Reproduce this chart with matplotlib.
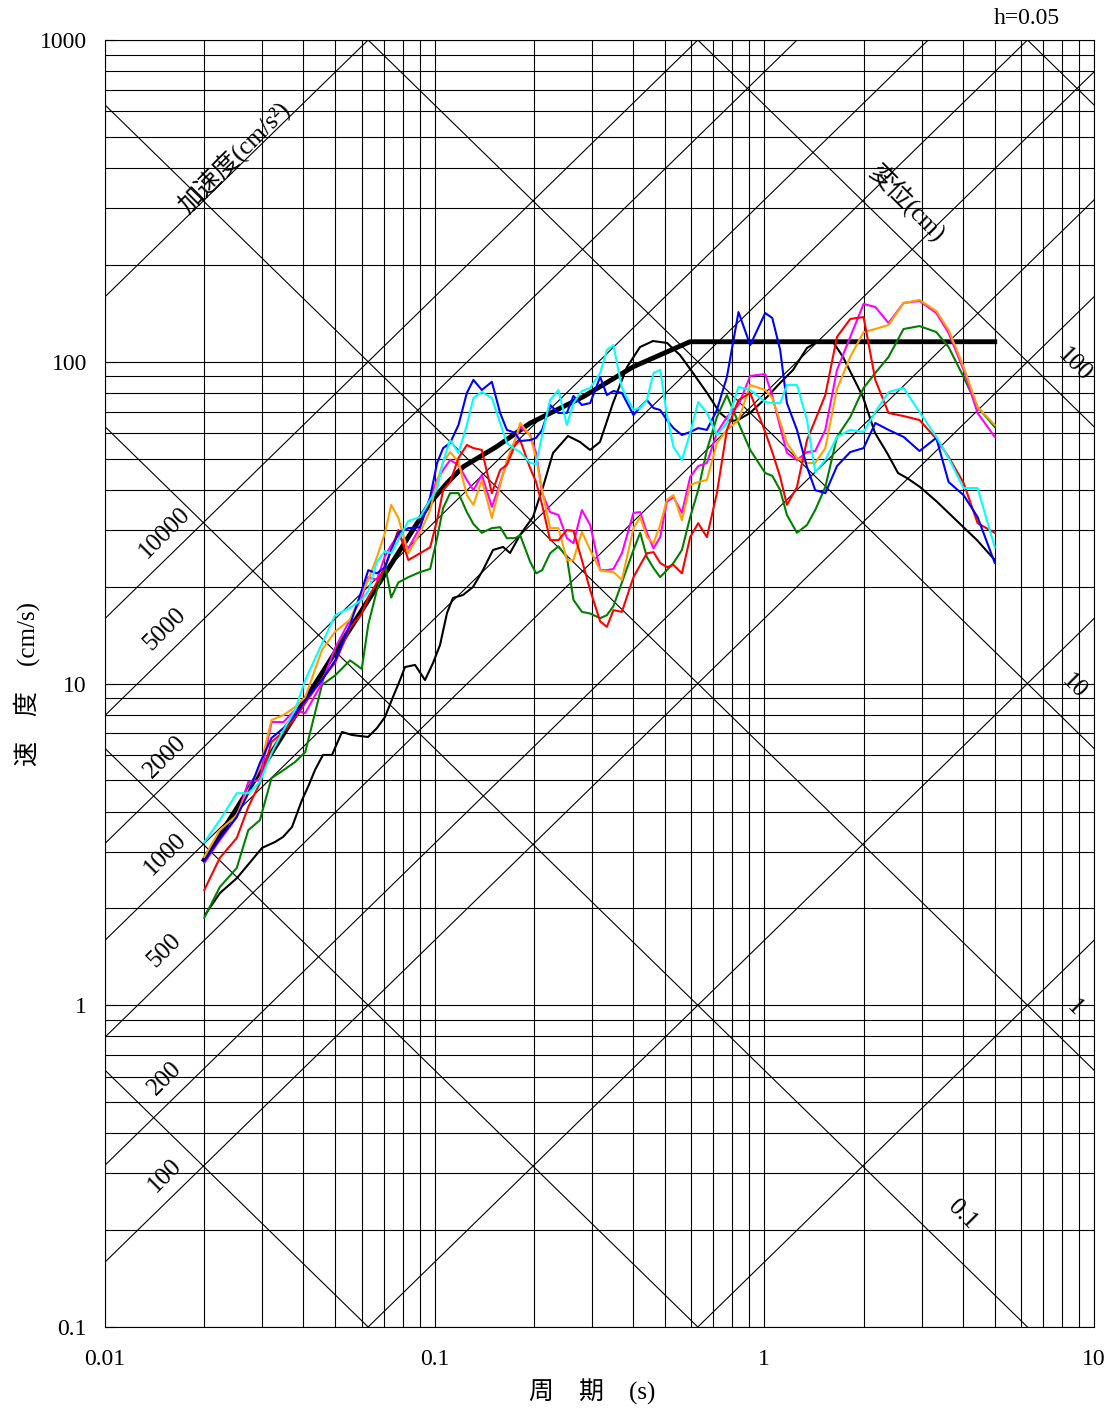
import numpy as np
import matplotlib
matplotlib.use('Agg')
import matplotlib.pyplot as plt
from matplotlib.ticker import LogLocator, NullFormatter, FixedLocator, FixedFormatter

# periods (s) of the computed spectra
periods = [0.020, 0.0223, 0.0251, 0.0272, 0.0295, 0.0320, 0.0348, 0.0377, 0.0405, 0.0455,
           0.0499, 0.0554, 0.0601, 0.0629, 0.0668, 0.0707, 0.0738, 0.0776, 0.0832, 0.0903,
           0.0969, 0.1017, 0.1061, 0.1114, 0.1181, 0.1252, 0.1311, 0.1390, 0.1491, 0.1580,
           0.1656, 0.1754, 0.1817, 0.1948, 0.2031, 0.2118, 0.2240, 0.2374, 0.2518, 0.2636,
           0.2796, 0.2963, 0.3177, 0.3329, 0.3486, 0.3698, 0.4009, 0.4202, 0.4403, 0.4611,
           0.4832, 0.5063, 0.5302, 0.5623, 0.5958, 0.6301, 0.6695, 0.7180, 0.7700, 0.8349,
           0.9061, 1.006, 1.057, 1.117, 1.171, 1.256, 1.347, 1.427, 1.531, 1.661,
           1.822, 2.000, 2.171, 2.381, 2.644, 2.957, 3.323, 3.622, 4.022, 4.435, 5.0]

sv_blue = [2.80, 3.30, 3.85, 4.56, 5.66, 6.77, 7.27, 7.98, 8.88, 10.25,
           11.8, 15.25, 19.5, 22.5, 22.0, 23.0, 26.0, 29.4, 30.4, 30.6,
           37.95, 48.45, 53.9, 55.9, 63.6, 80.0, 87.8, 81.7, 86.6, 69.3,
           61.4, 60.1, 56.7, 57.1, 58.0, 61.4, 73.4, 69.3, 69.3, 78.3,
           73.4, 74.4, 89.7, 78.8, 81.1, 80.0, 68.3, 72.3, 76.05, 71.8,
           70.8, 65.9, 62.2, 59.2, 60.5, 62.2, 61.4, 70.8, 89.7, 142.7,
           112.7, 141.7, 136.8, 108.8, 74.4, 61.4, 47.1, 39.9, 39.05, 47.4,
           52.4, 53.9, 64.5, 61.4, 58.4, 52.8, 58.0, 42.3, 38.5, 32.9, 23.7]

sv_red = [2.28, 2.87, 3.31, 4.13, 4.90, 6.58, 7.07, 7.81, 8.69, 10.3,
          11.6, 14.9, 16.5, 18.5, 20.6, 23.0, 26.0, 30.0, 24.2, 25.4,
          26.5, 32.2, 39.9, 42.3, 50.2, 55.1, 53.9, 53.2, 39.05, 46.1,
          47.8, 55.1, 57.1, 46.7, 42.3, 35.9, 27.9, 27.9, 30.0, 29.8,
          24.2, 19.5, 15.6, 15.0, 16.9, 16.7, 21.4, 23.35, 25.4, 25.6,
          23.7, 23.0, 23.35, 22.0, 28.5, 31.5, 28.5, 39.05, 61.4, 76.05,
          80.0, 60.5, 52.4, 43.85, 35.9, 40.8, 57.1, 65.9, 78.8, 119.4,
          135.8, 137.7, 87.8, 69.3, 67.8, 65.9, 57.6, 50.6, 42.0, 31.5, 29.4]

sv_magenta = [2.77, 3.26, 3.84, 4.94, 5.01, 7.59, 7.59, 8.27, 8.09, 10.03,
              12.9, 15.8, 18.5, 21.4, 21.0, 24.9, 26.9, 28.9, 26.3, 30.6,
              37.95, 42.9, 46.1, 49.5, 47.8, 42.9, 39.9, 44.5, 35.4, 42.0,
              48.8, 57.1, 62.7, 59.2, 52.1, 39.05, 34.1, 33.4, 28.3, 27.3,
              34.6, 31.1, 22.5, 22.5, 22.7, 25.4, 33.9, 34.1, 29.4, 26.3,
              28.5, 36.7, 37.95, 33.9, 43.85, 47.4, 48.45, 60.1, 67.3, 73.4,
              90.3, 91.6, 78.3, 62.7, 52.1, 49.5, 52.4, 52.8, 61.4, 94.3,
              119.4, 151.2, 148.0, 131.9, 152.3, 154.5, 141.7, 122.8, 94.3, 69.3, 58.4]

sv_orange = [2.89, 3.50, 3.90, 4.67, 5.46, 7.70, 7.98, 8.45, 9.07, 12.7,
             14.5, 15.8, 19.1, 21.0, 24.7, 29.4, 35.9, 32.7, 25.4, 29.4,
             34.6, 42.3, 48.8, 52.4, 48.8, 38.5, 35.9, 42.9, 32.7, 41.4,
             49.5, 57.1, 64.5, 58.8, 50.2, 39.9, 30.4, 30.4, 24.2, 24.2,
             29.6, 26.0, 22.5, 22.3, 22.2, 21.0, 30.4, 32.9, 28.5, 27.3,
             31.1, 37.2, 38.5, 32.2, 41.4, 42.3, 42.9, 55.9, 61.4, 65.9,
             84.7, 81.7, 77.2, 65.0, 55.9, 50.2, 48.45, 48.45, 53.9, 82.3,
             103.5, 123.7, 126.4, 130.1, 152.3, 155.6, 143.8, 125.5, 96.4, 72.3, 63.6]

sv_cyan = [3.21, 3.76, 4.56, 4.56, 4.94, 6.08, 7.17, 8.27, 10.25, 13.3,
           16.3, 17.2, 18.2, 19.4, 23.9, 25.8, 25.4, 27.9, 32.0, 32.9,
           37.2, 40.2, 49.1, 57.1, 52.1, 63.6, 77.2, 80.5, 77.2, 64.5,
           55.9, 53.5, 52.4, 48.45, 48.1, 59.2, 76.05, 81.7, 63.6, 74.4,
           81.1, 82.9, 92.3, 108.8, 112.7, 82.9, 70.8, 71.8, 76.05, 92.3,
           94.3, 68.3, 54.3, 49.5, 60.1, 75.0, 69.3, 59.2, 64.5, 83.5,
           81.7, 75.0, 74.4, 74.4, 84.7, 84.7, 65.9, 45.4, 49.5, 58.4,
           61.4, 60.5, 69.8, 80.5, 82.9, 69.8, 58.4, 50.2, 40.5, 40.5, 26.5]

sv_green = [1.87, 2.33, 2.67, 3.50, 3.76, 5.08, 5.38, 5.70, 6.12, 9.89,
            10.6, 11.8, 11.1, 15.25, 19.5, 23.35, 18.5, 20.6, 21.4, 22.2,
            22.7, 28.3, 35.1, 39.05, 39.05, 34.1, 31.3, 29.4, 30.4, 30.6,
            28.3, 28.3, 28.9, 23.9, 22.0, 22.5, 25.4, 26.7, 24.7, 18.2,
            16.7, 16.5, 15.96, 16.3, 17.4, 20.6, 26.0, 29.4, 24.7, 22.85,
            21.4, 22.5, 23.7, 26.0, 32.9, 39.9, 53.2, 67.3, 78.8, 64.5,
            53.2, 45.1, 44.2, 39.9, 33.4, 29.4, 31.1, 34.6, 40.8, 58.4,
            67.3, 82.9, 92.3, 103.5, 126.4, 129.1, 123.7, 111.1, 89.7, 72.3, 62.7]

# smooth black spectrum
black_T = [0.0201, 0.02233, 0.02514, 0.02792, 0.02994, 0.03279, 0.03467, 0.03692, 0.03959, 0.04128,
           0.04335, 0.04584, 0.04882, 0.05235, 0.05615, 0.06279, 0.06685, 0.07068, 0.07474, 0.0785,
           0.08128, 0.08717, 0.09348, 0.09886, 0.1038, 0.109, 0.1136, 0.1219, 0.1307, 0.1402,
           0.1503, 0.1612, 0.1693, 0.1815, 0.1987, 0.2131, 0.2286, 0.2538, 0.276, 0.296,
           0.3172, 0.3475, 0.3833, 0.4197, 0.4596, 0.5069, 0.5548, 0.6075, 0.67, 0.7337,
           0.7868, 0.832, 0.9048, 1.019, 1.116, 1.222, 1.347, 1.445, 1.616, 1.732,
           1.819, 1.992, 2.166, 2.356, 2.544, 2.709, 2.967, 3.341, 4.006, 4.417, 5.0]
black_sv = [1.908, 2.233, 2.486, 2.828, 3.083, 3.217, 3.334, 3.581, 4.345, 4.769,
            5.385, 5.997, 5.997, 7.069, 6.918, 6.82, 7.272, 7.868, 9.081, 10.25,
            11.25, 11.42, 10.25, 11.58, 13.17, 16.56, 18.44, 18.84, 19.95, 22.54,
            26.0, 26.57, 25.45, 28.94, 32.93, 40.81, 52.06, 58.78, 56.31, 53.19,
            56.31, 74.43, 96.31, 111.1, 116.0, 114.4, 104.9, 92.3, 80.0, 69.3,
            65.4, 65.9, 69.3, 77.7, 85.9, 94.3, 110.4, 115.2, 115.2, 103.5,
            93.6, 77.7, 60.1, 52.1, 45.1, 43.5, 40.8, 36.7, 30.7, 27.9, 24.2]

# target (design) spectrum, thick line
design_T = [0.020, 0.0404, 0.0968, 0.1088, 0.1222, 0.1543, 0.1946, 0.2825, 0.4004, 0.595, 5.0]
design_sv = [2.83, 8.89, 36.4, 41.9, 47.2, 54.5, 64.4, 77.9, 96.5, 115.4, 115.4]

# tripartite guide lines
acc_lines = [1, 10, 100, 200, 500, 1000, 2000, 5000, 10000, 100000]   # cm/s2
acc_labels = [100, 200, 500, 1000, 2000, 5000, 10000]
disp_lines = [0.001, 0.01, 0.1, 1, 10, 100, 1000]                      # cm
disp_labels = ['100', '10', '1']

x_ticks = [0.01, 0.1, 1, 10]
x_ticklabels = ['0.01', '0.1', '1', '10']
y_ticks = [0.1, 1, 10, 100, 1000]
y_ticklabels = ['0.1', '1', '10', '100', '1000']

plt.rcParams['font.family'] = ['Liberation Serif', 'Noto Sans CJK JP']
FS = 17
FS_LINE = 18

fig = plt.figure(figsize=(11.14, 14.08), dpi=100)
ax = fig.add_axes([105 / 1114, 1 - 1327 / 1408, 989 / 1114, 1287 / 1408])
ax.set_xscale('log')
ax.set_yscale('log')
ax.set_autoscale_on(False)
ax.set_xlim(0.01, 10)
ax.set_ylim(0.1, 1000)

t_ends = np.array([0.01, 10.0])
for a in acc_lines:
    ax.plot(t_ends, a * t_ends / (2 * np.pi), color='k', lw=0.8, zorder=1)
for d in disp_lines:
    ax.plot(t_ends, 2 * np.pi * d / t_ends, color='k', lw=0.8, zorder=1)

for a in acc_labels:
    ax.text(0.0152, a * 0.00295, str(a), rotation=45, ha='center', va='center',
            fontsize=FS_LINE, zorder=5)
for lab in disp_labels:
    ax.text(8.7, float(lab) * 0.98, lab, rotation=-45, ha='center', va='center',
            fontsize=FS_LINE, zorder=5)
ax.text(3.98, 0.223, '0.1', rotation=-45, ha='center', va='center', fontsize=FS_LINE, zorder=5)

ax.text(0.0246, 433, '加速度(cm/s²)', rotation=45, ha='center', va='center', fontsize=18, zorder=5)
ax.text(2.73, 311, '変位(cm)', rotation=-45, ha='center', va='center', fontsize=18, zorder=5)

# spectra
ax.plot(design_T, design_sv, color='k', lw=3.5, zorder=3)
ax.plot(black_T, black_sv, color='k', lw=1.5, zorder=3)
ax.plot(periods, sv_green, color='#008000', lw=1.5, zorder=4)
ax.plot(periods, sv_magenta, color='#ff00ff', lw=1.5, zorder=4)
ax.plot(periods, sv_orange, color='#ffa000', lw=1.5, zorder=4)
ax.plot(periods, sv_red, color='#ff0000', lw=1.5, zorder=4)
ax.plot(periods, sv_blue, color='#0000ff', lw=1.5, zorder=4)
ax.plot(periods, sv_cyan, color='#00ffff', lw=1.5, zorder=4)

# log grid
for axis in (ax.xaxis, ax.yaxis):
    axis.set_minor_locator(LogLocator(base=10, subs=np.arange(2, 10), numticks=20))
    axis.set_minor_formatter(NullFormatter())
ax.xaxis.set_major_locator(FixedLocator(x_ticks))
ax.xaxis.set_major_formatter(FixedFormatter(x_ticklabels))
ax.yaxis.set_major_locator(FixedLocator(y_ticks))
ax.yaxis.set_major_formatter(FixedFormatter(y_ticklabels))
ax.grid(True, which='both', color='k', lw=0.8, zorder=0)
ax.set_axisbelow(True)

ax.tick_params(axis='y', which='major', direction='in', length=7, pad=13, labelsize=FS)
ax.tick_params(axis='x', which='major', length=0, pad=16, labelsize=FS)
ax.tick_params(which='minor', length=0)
for sp in ax.spines.values():
    sp.set_linewidth(0.8)

ax.set_ylabel('速　度　(cm/s)', fontsize=18)
ax.yaxis.set_label_coords(-0.066, 0.5)
ax.set_xlabel('周　期　(s)', fontsize=18)
ax.xaxis.set_label_coords(0.493, -0.040)

fig.text(1060 / 1114, 1 - 19 / 1408, 'h=0.05', ha='right', va='center', fontsize=FS)

fig.savefig('out.png', dpi=100)
